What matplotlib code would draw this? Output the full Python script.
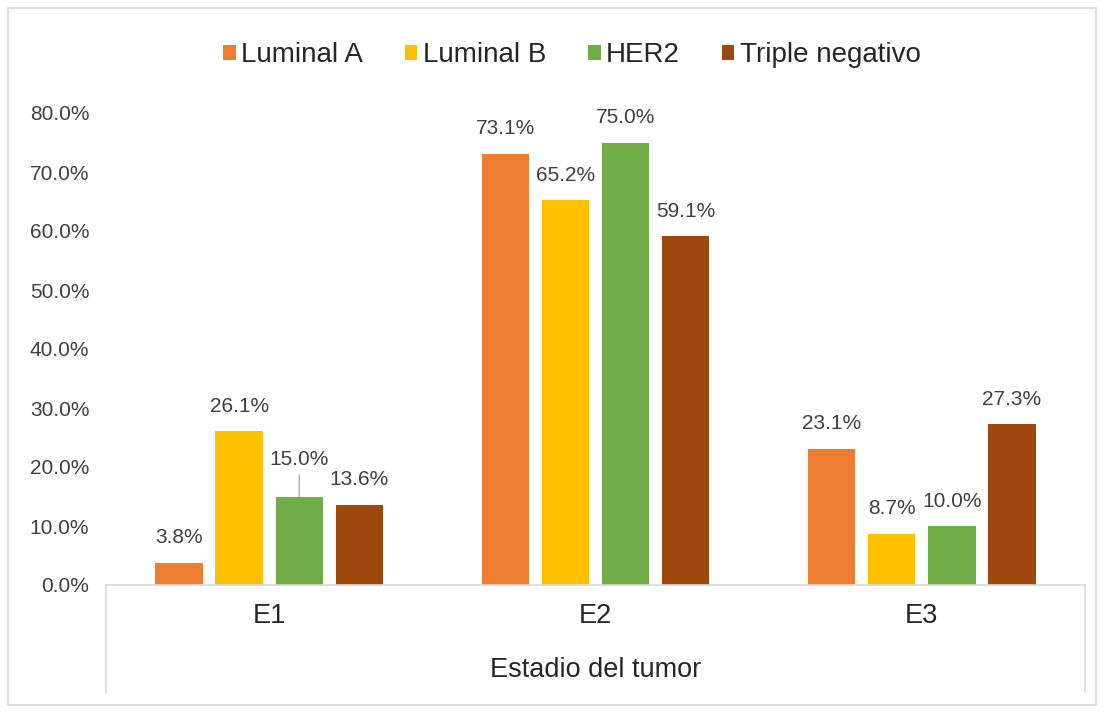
import matplotlib.pyplot as plt
import numpy as np
from matplotlib.patches import Rectangle
from matplotlib.transforms import blended_transform_factory

plt.rcParams['font.family'] = ['Liberation Sans', 'DejaVu Sans']

categories = ['E1', 'E2', 'E3']
series = ['Luminal A', 'Luminal B', 'HER2', 'Triple negativo']
luminal_a = [3.8, 73.1, 23.1]
luminal_b = [26.1, 65.2, 8.7]
her2 = [15.0, 75.0, 10.0]
triple_neg = [13.6, 59.1, 27.3]
colors = ['#ED7D31', '#FFC000', '#70AD47', '#9E480E']
values = [luminal_a, luminal_b, her2, triple_neg]
y_ticks = [0, 10, 20, 30, 40, 50, 60, 70, 80]
x_title = 'Estadio del tumor'

W, H = 1104, 713
fig = plt.figure(figsize=(W / 100, H / 100), dpi=100)

# outer chart border
fig.patches.append(Rectangle((8 / W, 8 / H), 1088 / W, 697 / H, transform=fig.transFigure,
                             fill=False, edgecolor='#D9D9D9', linewidth=1.2))

left, right = 106, 1085
base_y, top_y = 585, 113
ax = fig.add_axes([left / W, (H - base_y) / H, (right - left) / W, (base_y - top_y) / H])

x = np.arange(len(categories))
width = 0.145
pitch = 0.184
offsets = (np.arange(len(series)) - 1.5) * pitch

for i, (name, vals) in enumerate(zip(series, values)):
    ax.bar(x + offsets[i], vals, width, color=colors[i], label=name, zorder=2)
    for j, v in enumerate(vals):
        xpos = x[j] + offsets[i]
        if name == 'HER2' and categories[j] == 'E1':
            # label pushed up with a leader line, as in the source chart
            ax.annotate(f'{v:.1f}%', xy=(xpos, v), xytext=(xpos, v + 4.6),
                        ha='center', va='bottom', fontsize=15, color='#404040',
                        arrowprops=dict(arrowstyle='-', color='#A6A6A6', lw=0.9,
                                        shrinkA=2, shrinkB=0))
        else:
            ax.text(xpos, v + 2.6, f'{v:.1f}%', ha='center', va='bottom',
                    fontsize=15, color='#404040')

ax.set_xlim(-0.5, 2.5)
ax.set_ylim(0, 80)
ax.set_yticks(y_ticks)
ax.set_yticklabels([f'{t:.1f}%' for t in y_ticks], fontsize=15, color='#404040')
ax.tick_params(axis='y', length=0, pad=12)
ax.set_xticks(x)
ax.set_xticklabels(categories, fontsize=19.5, color='#262626')
ax.tick_params(axis='x', length=0, pad=13)
for s in ['top', 'right', 'left']:
    ax.spines[s].set_visible(False)
ax.spines['bottom'].set_color('#D9D9D9')
ax.spines['bottom'].set_linewidth(1.2)

# multi-level category box edges
trans = blended_transform_factory(ax.transAxes, fig.transFigure)
for xa in [0, 1]:
    ax.plot([xa, xa], [(H - base_y) / H, (H - 692) / H], color='#D9D9D9', lw=1.2,
            transform=trans, clip_on=False)

fig.text((left + right) / 2 / W, (H - 670) / H, x_title, ha='center', va='center',
         fontsize=19.5, color='#262626')

fig.legend(loc='center', bbox_to_anchor=(572 / W, (H - 55) / H), ncol=4, frameon=False,
           fontsize=20, handlelength=0.45, handleheight=0.45, handletextpad=0.2,
           columnspacing=1.5, labelcolor='#262626')

fig.savefig('out.png', dpi=100)
